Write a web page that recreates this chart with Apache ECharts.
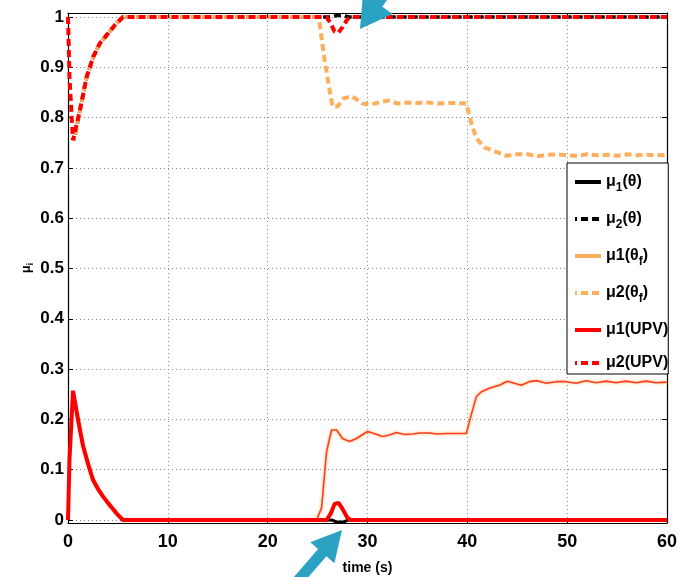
<!DOCTYPE html>
<html><head><meta charset="utf-8">
<script src="https://cdn.jsdelivr.net/npm/echarts@6/dist/echarts.min.js"></script>
<style>html,body{margin:0;padding:0;background:#fff}#c{width:680px;height:577px}</style>
</head><body><div id="c"></div>
<script>
// ---- data (time [s], value) ----
const xTicks = [0, 10, 20, 30, 40, 50, 60];
const yTicks = [0, 0.1, 0.2, 0.3, 0.4, 0.5, 0.6, 0.7, 0.8, 0.9, 1];

const mu1Theta = [[0.6,0.245],[1.0,0.2],[1.5,0.148],[2,0.112],[2.5,0.08],[3,0.062],[3.5,0.047],[4,0.034],
  [4.5,0.022],[5,0.01],[5.5,0],[26.4,0],[26.9,-0.004],[27.6,-0.004],[28.1,0],[60,0]];
const mu2Theta = [[0.6,0.755],[1.2,0.815],[1.87,0.881],[2.53,0.921],[3.2,0.948],[3.87,0.964],[4.7,0.984],[5.5,1],
  [25,1],[26.4,1],[26.9,1.003],[27.6,1.003],[28.1,1],[60,1]];

const mu1ThetaF = [[0.6,0.245],[1.0,0.2],[1.5,0.148],[2,0.112],[2.5,0.08],[3,0.062],[3.5,0.047],[4,0.034],[4.5,0.022],[5,0.01],[5.5,0],
  [24.9,0],[25.4,0.024],[25.9,0.136],[26.4,0.179],[26.9,0.179],[27.5,0.162],[28.2,0.156],[28.9,0.162],[30,0.176],[30.8,0.171],
  [31.5,0.166],[32.2,0.169],[32.9,0.174],[33.7,0.17],[34.5,0.171],[35.3,0.173],[36.2,0.173],[37,0.171],[37.9,0.172],[39,0.172],
  [39.9,0.172],[40.4,0.21],[40.9,0.245],[41.4,0.255],[42.2,0.262],[43.2,0.268],[44,0.276],[44.7,0.272],[45.4,0.268],[46.2,0.275],
  [47,0.277],[47.9,0.272],[48.9,0.275],[49.9,0.275],[50.9,0.272],[51.9,0.277],[52.9,0.273],[53.9,0.276],[54.9,0.273],[55.9,0.276],
  [56.9,0.273],[57.9,0.276],[58.9,0.273],[60,0.274]];

const mu2ThetaF = [[0.6,0.755],[1.2,0.815],[1.87,0.881],[2.53,0.921],[3.2,0.948],[3.87,0.964],[4.7,0.984],[5.5,1],
  [25,1],[25.2,0.987],[25.7,0.915],[26.2,0.855],[26.5,0.822],[27,0.822],[27.6,0.838],[28.4,0.843],[29,0.835],[29.5,0.828],
  [30.3,0.826],[31.3,0.831],[32.2,0.834],[33,0.828],[34,0.83],[35,0.829],[36,0.83],[37,0.828],[38,0.829],[39,0.829],[39.9,0.828],
  [40.4,0.789],[40.9,0.759],[41.7,0.741],[42.9,0.732],[43.9,0.724],[44.9,0.727],[46,0.727],[47,0.723],[48,0.726],[49,0.727],
  [50,0.725],[51,0.724],[52,0.727],[53,0.725],[54,0.726],[55,0.724],[56,0.727],[57,0.725],[58,0.726],[59,0.725],[60,0.726]];

const mu1UPV = [[0,0],[0.15,0.12],[0.5,0.257],[1.0,0.2],[1.5,0.148],[2.0,0.112],[2.5,0.08],[3.0,0.062],[3.5,0.047],[4.0,0.034],
  [4.5,0.022],[5.0,0.01],[5.5,0],[25.9,0],[26.3,0.012],[26.7,0.032],[27.1,0.034],[27.5,0.022],[28.0,0.004],[28.3,0],[60,0]];
const mu2UPV = [[0,1],[0.15,0.88],[0.5,0.755],[0.6,0.752],[1.2,0.815],[1.87,0.881],[2.53,0.921],[3.2,0.948],[3.87,0.964],
  [4.7,0.984],[5.5,1],[25.9,1],[26.3,0.988],[26.7,0.971],[27.1,0.969],[27.5,0.98],[28.0,0.996],[28.3,1],[60,1]];

const seriesNames = ['μ1(θ)', 'μ2(θ)', 'μ1(θf)', 'μ2(θf)', 'μ1(UPV)', 'μ2(UPV)'];
const legendLabels = {
  'μ1(θ)': '{a|μ}{s|1}{a|(θ)}',
  'μ2(θ)': '{a|μ}{s|2}{a|(θ)}',
  'μ1(θf)': '{a|μ1(θ}{s|f}{a|)}',
  'μ2(θf)': '{a|μ2(θ}{s|f}{a|)}',
  'μ1(UPV)': '{a|μ1(UPV)}',
  'μ2(UPV)': '{a|μ2(UPV)}'
};

const F = "'Liberation Sans', Arial, sans-serif";
const ORANGE = '#ffae5c';
const RED = '#ff0000';

function arrowPts(tx, ty, angDeg, headL, headW, shaftW, shaftL) {
  const a = angDeg * Math.PI / 180, dx = Math.cos(a), dy = Math.sin(a), nx = -dy, ny = dx;
  const bx = tx + dx * headL, by = ty + dy * headL;
  const ex = tx + dx * (headL + shaftL), ey = ty + dy * (headL + shaftL);
  return [[tx, ty], [bx + nx * headW, by + ny * headW], [bx + nx * shaftW, by + ny * shaftW],
    [ex + nx * shaftW, ey + ny * shaftW], [ex - nx * shaftW, ey - ny * shaftW],
    [bx - nx * shaftW, by - ny * shaftW], [bx - nx * headW, by - ny * headW]];
}

const chart = echarts.init(document.getElementById('c'), null, {renderer: 'canvas'});
const gridLine = {show: true, lineStyle: {color: '#8c8c8c', type: [1, 3], width: 1}};
const axisLineBlack = {show: true, onZero: false, lineStyle: {color: '#000', width: 1.2}};

function lineSeries(name, data, color, width, dashed, extra) {
  return {
    name, type: 'line', data, showSymbol: false, symbol: 'none', clip: false,
    animation: false, xAxisIndex: 0, yAxisIndex: 0,
    lineStyle: Object.assign({color, width, type: dashed ? [7, 4] : 'solid'}, extra || {}),
    itemStyle: {color}
  };
}

chart.setOption({
  animation: false,
  backgroundColor: '#fff',
  grid: {left: 68, right: 13, top: 13, bottom: 54, containLabel: false, outerBoundsMode: 'none'},
  xAxis: [{
    type: 'value', min: 0, max: 60, interval: 10, position: 'bottom',
    name: 'time (s)', nameLocation: 'middle', nameGap: 38, nameMoveOverlap: false,
    nameTextStyle: {fontFamily: F, fontWeight: 'bold', fontSize: 14, color: '#000'},
    axisLine: axisLineBlack,
    axisTick: {show: true, inside: true, length: 5, lineStyle: {color: '#000'}},
    axisLabel: {fontFamily: F, fontWeight: 'bold', fontSize: 18, color: '#000', margin: 10},
    splitLine: gridLine
  }, {
    type: 'value', min: 0, max: 60, interval: 10, position: 'top',
    axisLine: axisLineBlack,
    axisTick: {show: true, inside: true, length: 5, lineStyle: {color: '#000'}},
    axisLabel: {show: false}, splitLine: {show: false}
  }],
  yAxis: [{
    type: 'value', min: -0.006, max: 1.008, position: 'left',
    name: '{a|μ}{s|i}', nameLocation: 'middle', nameGap: 33, nameMoveOverlap: false,
    nameTextStyle: {color: '#000', rich: {
      a: {fontFamily: F, fontWeight: 'bold', fontSize: 13, color: '#000'},
      s: {fontFamily: F, fontWeight: 'bold', fontSize: 9, color: '#000', padding: [8, 0, 0, 0]}
    }},
    axisLine: axisLineBlack,
    axisTick: {show: true, inside: true, length: 5, customValues: yTicks, lineStyle: {color: '#000'}},
    axisLabel: {fontFamily: F, fontWeight: 'bold', fontSize: 17, color: '#000', margin: 4, customValues: yTicks},
    splitLine: gridLine
  }, {
    type: 'value', min: -0.006, max: 1.008, position: 'right',
    axisLine: axisLineBlack,
    axisTick: {show: true, inside: true, length: 5, customValues: yTicks, lineStyle: {color: '#000'}},
    axisLabel: {show: false, customValues: yTicks}, splitLine: {show: false}
  }],
  legend: {
    orient: 'vertical', left: 567, top: 163,
    padding: [11, 0, 3, 6], itemGap: 17, itemWidth: 26, itemHeight: 14,
    backgroundColor: '#fff', borderColor: '#000', borderWidth: 1, borderRadius: 0,
    itemStyle: {opacity: 0},
    lineStyle: {width: 4, shadowBlur: 0},
    data: [
      {name: seriesNames[0]}, {name: seriesNames[1]},
      {name: seriesNames[2], lineStyle: {color: ORANGE, width: 4, shadowBlur: 0}},
      {name: seriesNames[3]}, {name: seriesNames[4]}, {name: seriesNames[5]}
    ],
    formatter: n => legendLabels[n],
    textStyle: {color: '#000', rich: {
      a: {fontFamily: F, fontWeight: 'bold', fontSize: 16, color: '#000'},
      s: {fontFamily: F, fontWeight: 'bold', fontSize: 12, color: '#000', padding: [12, 0, 0, 0]}
    }}
  },
  series: [
    lineSeries(seriesNames[0], mu1Theta, '#000', 3, false),
    lineSeries(seriesNames[1], mu2Theta, '#000', 3.5, true, {dashOffset: 5}),
    lineSeries(seriesNames[2], mu1ThetaF, '#ff3d1f', 1.6, false, {shadowColor: ORANGE, shadowBlur: 3}),
    lineSeries(seriesNames[3], mu2ThetaF, ORANGE, 4, true, {dashOffset: 5}),
    lineSeries(seriesNames[4], mu1UPV, RED, 4, false),
    lineSeries(seriesNames[5], mu2UPV, RED, 4, true)
  ],
  graphic: [
    {type: 'polygon', z: 100, shape: {points: arrowPts(360, 29, -55, 31, 18, 5.5, 40)}, style: {fill: '#2ba2c3'}},
    {type: 'polygon', z: 100, shape: {points: arrowPts(342, 530, 131, 30, 16, 5.5, 40)}, style: {fill: '#2ba2c3'}}
  ]
});
</script>
</body></html>
